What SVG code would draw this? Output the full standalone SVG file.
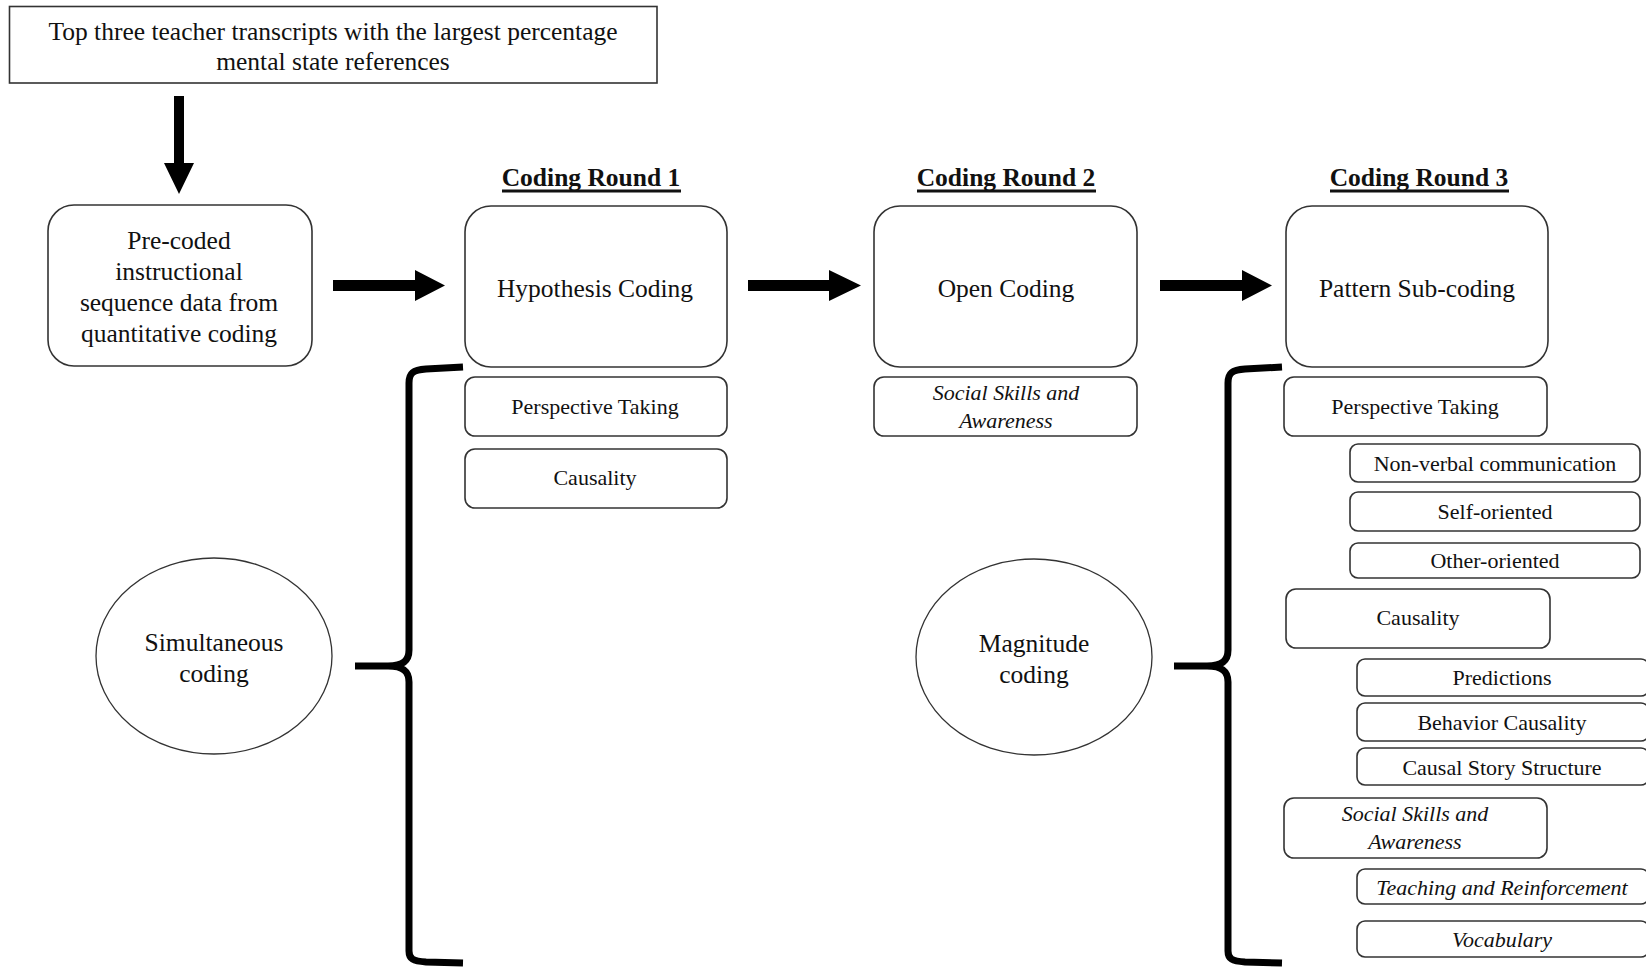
<svg xmlns="http://www.w3.org/2000/svg" width="1646" height="969" viewBox="0 0 1646 969">
  <style>
    text { font-family: "Liberation Serif", "Times New Roman", serif; fill: #111; text-anchor: middle; }
    .main { font-size: 25.5px; }
    .small { font-size: 22px; }
    .it { font-style: italic; }
    .title { font-size: 25.5px; font-weight: bold; }
    .rule { stroke: #111; stroke-width: 3; }
    .box { fill: #fff; stroke: #333; stroke-width: 1.6; }
    .ell { fill: #fff; stroke: #333; stroke-width: 1.3; }
    .arrow { fill: #000; stroke: none; }
    .brace { fill: none; stroke: #000; stroke-width: 7; stroke-linejoin: round; stroke-linecap: butt; }
  </style>

  <!-- source -->
  <g id="source">
    <rect class="box" x="9.5" y="6.5" width="647.5" height="76.5"/>
    <text class="main" x="333" y="40">Top three teacher transcripts with the largest percentage</text>
    <text class="main" x="333" y="70">mental state references</text>
  </g>

  <g id="precoded">
    <rect class="box" x="48" y="205" width="264" height="161" rx="26"/>
    <text class="main" x="179" y="249">Pre-coded</text>
    <text class="main" x="179" y="280">instructional</text>
    <text class="main" x="179" y="311">sequence data from</text>
    <text class="main" x="179" y="342">quantitative coding</text>
  </g>

  <!-- round headings (underlined) -->
  <g id="round1-title">
    <text class="title" x="591" y="186">Coding Round 1</text>
    <line class="rule" x1="502" y1="191" x2="681" y2="191"/>
  </g>
  <g id="round2-title">
    <text class="title" x="1006" y="186">Coding Round 2</text>
    <line class="rule" x1="917" y1="191" x2="1096" y2="191"/>
  </g>
  <g id="round3-title">
    <text class="title" x="1419" y="186">Coding Round 3</text>
    <line class="rule" x1="1330" y1="191" x2="1509" y2="191"/>
  </g>

  <!-- round 1 -->
  <g id="hypothesis">
    <rect class="box" x="465" y="206" width="262" height="161" rx="26"/>
    <text class="main" x="595" y="297">Hypothesis Coding</text>
  </g>
  <g id="r1-perspective">
    <rect class="box" x="465" y="377" width="262" height="59" rx="10"/>
    <text class="small" x="595" y="414">Perspective Taking</text>
  </g>
  <g id="r1-causality">
    <rect class="box" x="465" y="449" width="262" height="59" rx="10"/>
    <text class="small" x="595" y="485">Causality</text>
  </g>

  <!-- round 2 -->
  <g id="open">
    <rect class="box" x="874" y="206" width="263" height="161" rx="26"/>
    <text class="main" x="1006" y="297">Open Coding</text>
  </g>
  <g id="r2-social">
    <rect class="box" x="874" y="377" width="263" height="59" rx="10"/>
    <text class="small it" x="1006" y="400">Social Skills and</text>
    <text class="small it" x="1006" y="428">Awareness</text>
  </g>

  <!-- round 3 -->
  <g id="pattern">
    <rect class="box" x="1286" y="206" width="262" height="161" rx="26"/>
    <text class="main" x="1417" y="297">Pattern Sub-coding</text>
  </g>
  <g id="r3-perspective">
    <rect class="box" x="1284" y="377" width="263" height="59" rx="10"/>
    <text class="small" x="1415" y="414">Perspective Taking</text>
  </g>
  <g id="r3-nonverbal">
    <rect class="box" x="1350" y="444" width="290" height="38" rx="8"/>
    <text class="small" x="1495" y="471">Non-verbal communication</text>
  </g>
  <g id="r3-self">
    <rect class="box" x="1350" y="492" width="290" height="39" rx="8"/>
    <text class="small" x="1495" y="519">Self-oriented</text>
  </g>
  <g id="r3-other">
    <rect class="box" x="1350" y="543" width="290" height="35" rx="8"/>
    <text class="small" x="1495" y="568">Other-oriented</text>
  </g>
  <g id="r3-causality">
    <rect class="box" x="1286" y="589" width="264" height="59" rx="10"/>
    <text class="small" x="1418" y="625">Causality</text>
  </g>
  <g id="r3-predictions">
    <rect class="box" x="1357" y="659" width="292" height="37" rx="8"/>
    <text class="small" x="1502" y="685">Predictions</text>
  </g>
  <g id="r3-behavior">
    <rect class="box" x="1357" y="703" width="292" height="38" rx="8"/>
    <text class="small" x="1502" y="730">Behavior Causality</text>
  </g>
  <g id="r3-story">
    <rect class="box" x="1357" y="748" width="292" height="37" rx="8"/>
    <text class="small" x="1502" y="775">Causal Story Structure</text>
  </g>
  <g id="r3-social">
    <rect class="box" x="1284" y="798" width="263" height="60" rx="10"/>
    <text class="small it" x="1415" y="821">Social Skills and</text>
    <text class="small it" x="1415" y="849">Awareness</text>
  </g>
  <g id="r3-teaching">
    <rect class="box" x="1357" y="869" width="292" height="35" rx="8"/>
    <text class="small it" x="1502" y="895">Teaching and Reinforcement</text>
  </g>
  <g id="r3-vocabulary">
    <rect class="box" x="1357" y="921" width="292" height="36" rx="8"/>
    <text class="small it" x="1502" y="947">Vocabulary</text>
  </g>

  <!-- method ellipses -->
  <g id="simultaneous">
    <ellipse class="ell" cx="214" cy="656" rx="118" ry="98"/>
    <text class="main" x="214" y="651">Simultaneous</text>
    <text class="main" x="214" y="682">coding</text>
  </g>
  <g id="magnitude">
    <ellipse class="ell" cx="1034" cy="657" rx="118" ry="98"/>
    <text class="main" x="1034" y="652">Magnitude</text>
    <text class="main" x="1034" y="683">coding</text>
  </g>

  <!-- connectors: block arrows and braces -->
  <g id="connectors">
    <polygon class="arrow" points="174,96 184,96 184,163 194,163 179,194 164,163 174,163"/>
    <polygon class="arrow" points="333,280 415,280 415,270 445,285.5 415,301 415,291 333,291"/>
    <polygon class="arrow" points="748,280 829,280 829,270 861,285.5 829,301 829,291 748,291"/>
    <polygon class="arrow" points="1160,280 1242,280 1242,270 1272,285.5 1242,301 1242,291 1160,291"/>
    <path class="brace" d="M 463 367 L 426 369 C 413 370 409 373 409 383 L 409 650 C 409 660 404 666 388 666 L 355 666 M 388 666 C 404 666 409 672 409 682 L 409 951 C 409 959 413 961 426 962 L 463 963"/>
    <path class="brace" d="M 1282 367 L 1245 369 C 1232 370 1228 373 1228 383 L 1228 650 C 1228 660 1223 666 1207 666 L 1174 666 M 1207 666 C 1223 666 1228 672 1228 682 L 1228 951 C 1228 959 1232 961 1245 962 L 1282 963"/>
  </g>
</svg>
